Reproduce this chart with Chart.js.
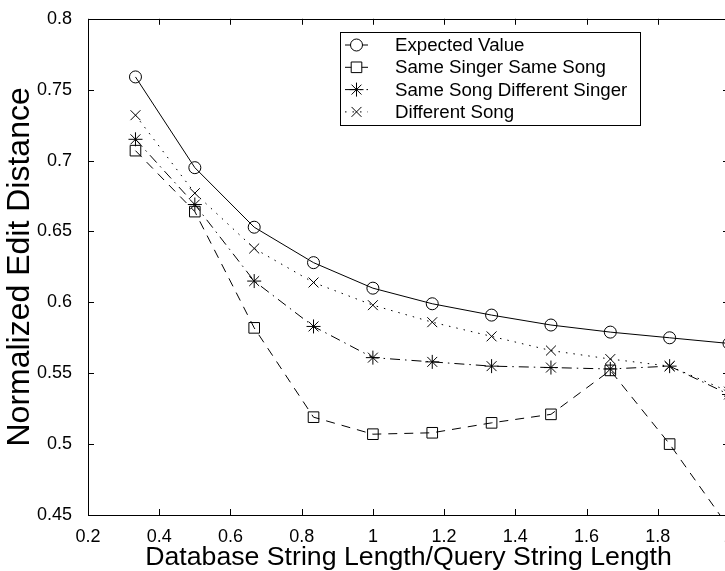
<!DOCTYPE html>
<html>
<head>
<meta charset="utf-8">
<script src="https://cdn.jsdelivr.net/npm/chart.js@4/dist/chart.umd.min.js"></script>
<style>
  html, body { margin: 0; padding: 0; background: #fff; overflow: hidden; }
  #wrap { position: relative; width: 740px; height: 571px; }
</style>
</head>
<body>
<div id="wrap"><canvas id="c"></canvas></div>
<script>
const xValues = [0.3333, 0.5, 0.6667, 0.8333, 1.0, 1.1667, 1.3333, 1.5, 1.6667, 1.8333, 2.0];
const expectedValue = [0.759, 0.695, 0.653, 0.628, 0.610, 0.599, 0.591, 0.584, 0.579, 0.575, 0.571];
const sameSingerSameSong = [0.707, 0.664, 0.582, 0.519, 0.507, 0.508, 0.515, 0.521, 0.552, 0.500, 0.441];
const sameSongDifferentSinger = [0.715, 0.669, 0.615, 0.583, 0.561, 0.558, 0.555, 0.554, 0.553, 0.555, 0.535];
const differentSong = [0.732, 0.677, 0.638, 0.614, 0.598, 0.586, 0.576, 0.566, 0.560, 0.555, 0.537];
const seriesLabels = ['Expected Value', 'Same Singer Same Song', 'Same Song Different Singer', 'Different Song'];
const xTicks = [0.2, 0.4, 0.6, 0.8, 1.0, 1.2, 1.4, 1.6, 1.8, 2.0];
const yTicks = [0.45, 0.5, 0.55, 0.6, 0.65, 0.7, 0.75, 0.8];

const FONT = '"Liberation Sans", Arial, Helvetica, sans-serif';

function pts(ys) { return xValues.map((x, i) => ({ x: x, y: ys[i] })); }

const styles = [
  { data: expectedValue, pointStyle: 'circle', radius: 6, dash: [] },
  { data: sameSingerSameSong, pointStyle: 'rect', radius: 7.5, dash: [9, 7] },
  { data: sameSongDifferentSinger, pointStyle: 'star', radius: 7, dash: [10, 5, 1.5, 5] },
  { data: differentSong, pointStyle: 'crossRot', radius: 7, dash: [1.5, 6] }
];

const datasets = styles.map((s, i) => ({
  label: seriesLabels[i],
  data: pts(s.data),
  borderColor: '#000',
  backgroundColor: 'rgba(0,0,0,0)',
  borderWidth: 1,
  borderDash: s.dash,
  pointStyle: s.pointStyle,
  pointRadius: s.radius,
  pointBorderColor: '#000',
  pointBackgroundColor: 'rgba(0,0,0,0)',
  pointBorderWidth: 1,
  tension: 0,
  fill: false
}));

const boxPlugin = {
  id: 'matlabBox',
  afterDatasetsDraw(chart) {
    const ctx = chart.ctx;
    const a = chart.chartArea;
    const xs = chart.scales.x, ys = chart.scales.y;
    ctx.save();
    ctx.strokeStyle = '#000';
    ctx.lineWidth = 1;
    ctx.setLineDash([]);
    ctx.strokeRect(Math.round(a.left) + 0.5, Math.round(a.top) + 0.5,
                   Math.round(a.right - a.left), Math.round(a.bottom - a.top));
    const L = 6;
    ctx.beginPath();
    xTicks.forEach(v => {
      const p = Math.round(xs.getPixelForValue(v)) + 0.5;
      ctx.moveTo(p, a.bottom); ctx.lineTo(p, a.bottom - L);
      ctx.moveTo(p, a.top); ctx.lineTo(p, a.top + L);
    });
    yTicks.forEach(v => {
      const p = Math.round(ys.getPixelForValue(v)) + 0.5;
      ctx.moveTo(a.left, p); ctx.lineTo(a.left + L, p);
      ctx.moveTo(a.right, p); ctx.lineTo(a.right - L, p);
    });
    ctx.stroke();

    // legend
    const bx = 340, by = 32, bw = 300, bh = 93;
    ctx.fillStyle = '#fff';
    ctx.fillRect(bx, by, bw, bh);
    ctx.strokeRect(bx + 0.5, by + 0.5, bw, bh);
    ctx.font = '18.7px ' + FONT;
    ctx.textBaseline = 'middle';
    ctx.textAlign = 'left';
    chart.data.datasets.forEach((ds, i) => {
      const y = by + 13 + i * 22.3;
      ctx.lineWidth = 1;
      ctx.strokeStyle = '#000';
      ctx.setLineDash(ds.borderDash);
      ctx.beginPath();
      ctx.moveTo(bx + 5, y); ctx.lineTo(bx + 28, y);
      ctx.stroke();
      ctx.setLineDash([]);
      ctx.fillStyle = '#fff';
      Chart.helpers.drawPoint(ctx, {
        pointStyle: ds.pointStyle, rotation: 0, radius: ds.pointRadius, borderWidth: 1
      }, bx + 16.5, y);
      ctx.fillStyle = '#000';
      ctx.fillText(ds.label, bx + 55, y + 1);
    });
    ctx.restore();
  }
};

new Chart(document.getElementById('c'), {
  type: 'line',
  data: { datasets: datasets },
  options: {
    responsive: true,
    maintainAspectRatio: false,
    animation: false,
    devicePixelRatio: 1,
    layout: { padding: { left: 0, right: 11, top: 16, bottom: 0 } },
    plugins: { legend: { display: false }, tooltip: { enabled: false } },
    scales: {
      x: {
        type: 'linear',
        min: 0.2, max: 2.0,
        afterBuildTicks: (s) => { s.ticks = xTicks.map(v => ({ value: v })); },
        afterFit: (s) => { s.height = 56; },
        grid: { display: false },
        border: { display: false },
        ticks: {
          color: '#000', font: { family: FONT, size: 18 }, padding: 3,
          maxRotation: 0, autoSkip: false,
          callback: (v) => String(Number(v.toFixed(2)))
        },
        title: {
          display: true, text: 'Database String Length/Query String Length',
          color: '#000', font: { family: FONT, size: 26.7, lineHeight: 1 }, padding: { top: 0, bottom: 0 }
        }
      },
      y: {
        type: 'linear',
        min: 0.45, max: 0.8,
        afterBuildTicks: (s) => { s.ticks = yTicks.map(v => ({ value: v })); },
        afterFit: (s) => { s.width = 88; },
        grid: { display: false },
        border: { display: false },
        ticks: {
          color: '#000', font: { family: FONT, size: 18 }, padding: 8,
          autoSkip: false,
          callback: (v) => String(Number(v.toFixed(2)))
        },
        title: {
          display: true, text: 'Normalized Edit Distance',
          color: '#000', font: { family: FONT, size: 32, lineHeight: 1 }, padding: { top: 4, bottom: 0 }
        }
      }
    }
  },
  plugins: [boxPlugin]
});
</script>
</body>
</html>
